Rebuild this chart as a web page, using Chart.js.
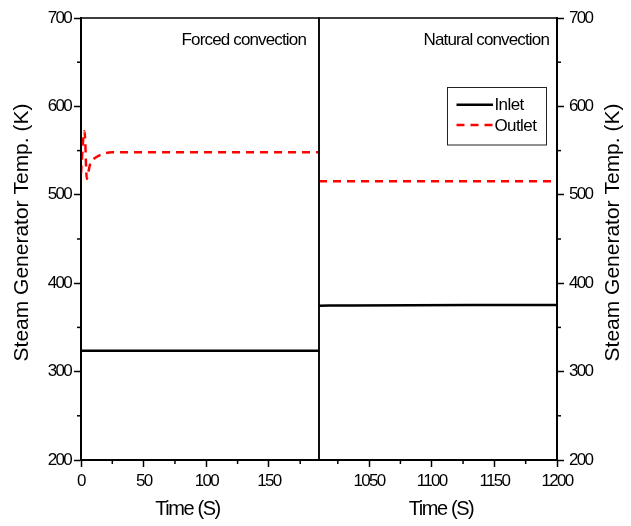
<!DOCTYPE html>
<html><head><meta charset="utf-8">
<script src="https://cdn.jsdelivr.net/npm/chart.js@4.4.1/dist/chart.umd.min.js"></script>
<style>
html,body{margin:0;padding:0;background:#fff;}
#wrap{position:relative;width:631px;height:526px;overflow:hidden;background:#fff;}
#c1{position:absolute;left:0;top:0;}
#c2{position:absolute;left:309px;top:0;}
</style></head><body>
<div id="wrap">
<canvas id="c1" width="320" height="526"></canvas>
<canvas id="c2" width="322" height="526"></canvas>
</div>
<script>
// ---- data ----
const seriesNames = ['Inlet', 'Outlet'];
const panelNames = ['Forced convection', 'Natural convection'];
const forcedInletTime = [0, 190];
const forcedInlet = [323.6, 323.6];
const forcedOutletTime = [0, 0.7, 1.4, 2.1, 2.8, 3.4, 4.0, 4.6, 5.5, 6.5, 8, 10, 12, 14, 17, 20, 25, 190];
const forcedOutlet = [524, 540, 556, 568, 572, 560, 534, 518, 522, 530, 537.5, 540.5, 542.5, 544, 546, 547.3, 548, 548];
const naturalInletTime = [1010, 1036, 1131, 1200];
const naturalInlet = [374.6, 374.8, 375.2, 375.3];
const naturalOutletTime = [1010, 1200];
const naturalOutlet = [515.3, 515.3];
const yTitle = 'Steam Generator Temp. (K)';
const xTitle = 'Time (S)';

Chart.defaults.font.family = "'Liberation Sans', Arial, sans-serif";
Chart.defaults.color = '#000';

const pts = (xs, ys) => xs.map((x, i) => ({x: x, y: ys[i]}));

const condensed = {
  id: 'condensed',
  beforeDraw(chart) { chart.ctx.letterSpacing = '-1.7px'; }
};

const frame = {
  id: 'frame',
  afterDatasetsDraw(chart) {
    const {ctx, chartArea: a} = chart;
    ctx.save(); ctx.strokeStyle = '#000'; ctx.lineWidth = 1.5;
    ctx.strokeRect(a.left, a.top, a.right - a.left, a.bottom - a.top);
    ctx.restore();
  }
};

const minorTicks = {
  id: 'minorTicks',
  afterDraw(chart) {
    const {ctx, chartArea: a} = chart;
    ctx.save(); ctx.strokeStyle = '#000'; ctx.lineWidth = 1.5;
    Object.values(chart.scales).forEach(s => {
      const vals = s.ticks.map(t => t.value);
      const step = vals.length > 1 ? vals[1] - vals[0] : 0;
      if (!step) return;
      const mids = [];
      for (let v = vals[0] - step / 2; v <= s.max; v += step) if (v >= s.min) mids.push(v);
      mids.forEach(v => {
        const p = s.getPixelForValue(v);
        ctx.beginPath();
        if (s.isHorizontal()) { ctx.moveTo(p, a.bottom); ctx.lineTo(p, a.bottom + 4); }
        else if (s.position === 'left') { ctx.moveTo(a.left, p); ctx.lineTo(a.left - 4, p); }
        else { ctx.moveTo(a.right, p); ctx.lineTo(a.right + 4, p); }
        ctx.stroke();
      });
    });
    ctx.restore();
  }
};

const titleTweak = {
  id: 'titleTweak',
  beforeDraw(chart, args, opts) {
    Object.values(chart.scales).forEach(s => {
      if (s.$tweaked) return;
      const t = opts[s.id]; if (!t) return;
      const orig = s.drawTitle;
      s.drawTitle = function () {
        const ctx = this.ctx;
        ctx.save();
        ctx.letterSpacing = t.ls || '0px';
        if (t.flip) {
          const o = this.options.title;
          const font = Chart.helpers.toFont(o.font);
          ctx.font = font.string; ctx.fillStyle = '#000';
          ctx.textAlign = 'center'; ctx.textBaseline = 'middle';
          ctx.translate(this.right - t.edge, (this.top + this.bottom) / 2 + (t.dy || 0));
          ctx.rotate(-Math.PI / 2);
          ctx.fillText(o.text, 0, 0);
        } else {
          ctx.translate(t.dx || 0, t.dy || 0);
          orig.call(this);
        }
        ctx.restore();
      };
      s.$tweaked = true;
    });
  }
};

const panelLabel = {
  id: 'panelLabel',
  afterDraw(chart, args, opts) {
    const {ctx, chartArea: a} = chart;
    ctx.save();
    ctx.letterSpacing = '-0.85px';
    ctx.font = "17px 'Liberation Sans', Arial, sans-serif";
    ctx.fillStyle = '#000'; ctx.textAlign = 'right'; ctx.textBaseline = 'middle';
    ctx.fillText(opts.text, a.right - opts.dx, a.top + 22);
    ctx.restore();
  }
};

const boxLegend = {
  id: 'boxLegend',
  afterDraw(chart, args, opts) {
    if (!opts.show) return;
    const {ctx, chartArea: a} = chart;
    ctx.save();
    ctx.strokeStyle = '#222'; ctx.lineWidth = 1;
    ctx.strokeRect(a.right - 109.5, a.top + 69.5, 99, 57.5);
    ctx.font = "17px 'Liberation Sans', Arial, sans-serif";
    ctx.letterSpacing = '-0.6px';
    ctx.textAlign = 'left'; ctx.textBaseline = 'middle';
    const rows = [a.top + 86.7, a.top + 107];
    chart.data.datasets.slice(0, 2).forEach((d, i) => {
      ctx.save();
      ctx.strokeStyle = d.borderColor; ctx.lineWidth = d.borderWidth;
      ctx.setLineDash(d.borderDash || []);
      ctx.beginPath(); ctx.moveTo(a.right - 100.5, rows[i]); ctx.lineTo(a.right - 64, rows[i]); ctx.stroke();
      ctx.restore();
      ctx.fillStyle = '#000';
      ctx.fillText(d.label, a.right - 62.5, rows[i] + 1);
    });
    ctx.restore();
  }
};

const tickFont = {size: 17};
const plain = v => String(v);
function xScale(min, max) {
  return {
    type: 'linear', min: min, max: max,
    ticks: {stepSize: 50, includeBounds: false, font: tickFont, color: '#000', padding: 4, maxRotation: 0, autoSkip: false, callback: plain},
    grid: {drawOnChartArea: false, drawTicks: true, tickLength: 7, tickColor: '#000', tickWidth: 1.5, color: '#000'},
    border: {display: true, color: '#000', width: 2},
    title: {display: true, text: xTitle, font: {size: 20}, color: '#000', padding: {top: 0, bottom: 5}},
    afterFit(s) { s.height = 66; }
  };
}
function yScale(pos, width, pad) {
  return {
    type: 'linear', position: pos, min: 200, max: 700,
    ticks: {stepSize: 100, font: tickFont, color: '#000', padding: pad, callback: plain},
    grid: {drawOnChartArea: false, drawTicks: true, tickLength: 7, tickColor: '#000', tickWidth: 1.5, color: '#000'},
    border: {display: true, color: '#000', width: 2},
    title: {display: true, text: yTitle, font: {size: 21}, color: '#000', padding: {top: 10, bottom: 0}},
    afterFit(s) { s.width = width; }
  };
}
function ds(label, data, color, dash) {
  return {label: label, data: data, borderColor: color, backgroundColor: color, borderWidth: 2.5,
    borderDash: dash, pointRadius: 0, fill: false, cubicInterpolationMode: 'monotone'};
}

new Chart(document.getElementById('c1'), {
  type: 'line',
  data: {datasets: [
    ds(seriesNames[0], pts(forcedInletTime, forcedInlet), '#000', []),
    ds(seriesNames[1], pts(forcedOutletTime, forcedOutlet), '#ff0000', [8, 6])
  ]},
  options: {
    responsive: false, animation: false, parsing: false,
    layout: {padding: {top: 18, right: 1, left: 0, bottom: 0}},
    scales: {x: xScale(0, 190), y: yScale('left', 81, 3)},
    plugins: {legend: {display: false}, tooltip: {enabled: false},
      titleTweak: {x: {dx: -12.5, ls: '-1.4px'}, y: {dy: -6.5}},
      panelLabel: {text: panelNames[0], dx: 13},
      boxLegend: {show: false}}
  },
  plugins: [condensed, frame, minorTicks, titleTweak, panelLabel, boxLegend]
});

new Chart(document.getElementById('c2'), {
  type: 'line',
  data: {datasets: [
    ds(seriesNames[0], pts(naturalInletTime, naturalInlet), '#000', []),
    ds(seriesNames[1], pts(naturalOutletTime, naturalOutlet), '#ff0000', [8, 6])
  ]},
  options: {
    responsive: false, animation: false, parsing: false,
    layout: {padding: {top: 18, right: 0, left: 10, bottom: 0}},
    scales: {x: xScale(1010, 1200), y: yScale('right', 74, 5)},
    plugins: {legend: {display: false}, tooltip: {enabled: false},
      titleTweak: {x: {dx: 3, ls: '-1.4px'}, y: {flip: true, edge: 18, dy: -6.5}},
      panelLabel: {text: panelNames[1], dx: 8},
      boxLegend: {show: true}}
  },
  plugins: [condensed, frame, minorTicks, titleTweak, panelLabel, boxLegend]
});
</script>
</body></html>
